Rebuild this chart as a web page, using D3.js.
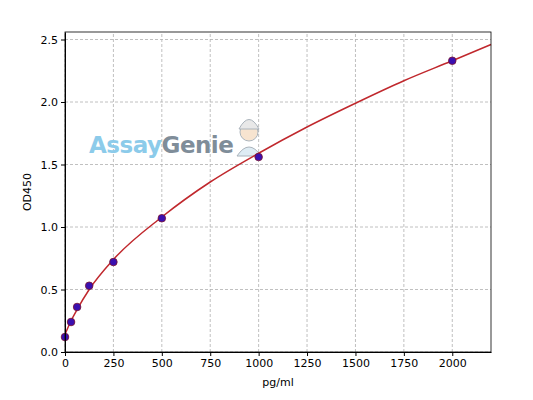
<!DOCTYPE html>
<html><head><meta charset="utf-8">
<script src="https://cdn.jsdelivr.net/npm/d3@7"></script>
<style>body{margin:0;background:#fff}text{font-family:"DejaVu Sans",sans-serif}</style>
</head><body><div id="chart"></div>
<script>
// standard points
var conc = [0, 31.25, 62.5, 125, 250, 500, 1000, 2000];
var od = [0.12, 0.24, 0.36, 0.53, 0.72, 1.07, 1.56, 2.33];
// fitted curve
var curveX = [0, 31.25, 62.5, 125, 250, 500, 750, 1000, 1250, 1500, 1750, 2000, 2200];
var curveY = [0.14, 0.25, 0.34, 0.50, 0.74, 1.08, 1.36, 1.59, 1.80, 1.99, 2.17, 2.33, 2.46];
var xTicks = [0, 250, 500, 750, 1000, 1250, 1500, 1750, 2000];
var yTicks = [0.0, 0.5, 1.0, 1.5, 2.0, 2.5];

var w = 533, h = 400;
var margin = {top: 32, right: 42, bottom: 48, left: 65};
var svg = d3.select("#chart").append("svg").attr("width", w).attr("height", h);

var x = d3.scaleLinear().domain([0, 2200]).range([margin.left, w - margin.right]);
var y = d3.scaleLinear().domain([0, 2.56]).range([h - margin.bottom, margin.top]);

//grid
svg.append("g").selectAll("line").data(xTicks).enter().append("line")
  .attr("x1", d => x(d)).attr("x2", d => x(d))
  .attr("y1", y(0)).attr("y2", y(2.56))
  .attr("stroke", "#b0b0b0").attr("stroke-dasharray", "3,2").attr("stroke-width", 0.8);
svg.append("g").selectAll("line").data(yTicks).enter().append("line")
  .attr("x1", x(0)).attr("x2", x(2200))
  .attr("y1", d => y(d)).attr("y2", d => y(d))
  .attr("stroke", "#b0b0b0").attr("stroke-dasharray", "3,2").attr("stroke-width", 0.8);

//watermark
var wm = svg.append("text").attr("x", 89).attr("y", 153).attr("font-size", 23).attr("font-weight", "bold")
  .attr("letter-spacing", -0.5);
wm.append("tspan").text("Assay").attr("fill", "#8ccbea");
wm.append("tspan").text("Genie").attr("fill", "#7f8d99");
var icon = svg.append("g").attr("transform", "translate(249,132)").attr("opacity", 0.65);
icon.append("circle").attr("r", 9).attr("fill", "#f3d7b8").attr("stroke", "#7f8d99");
icon.append("path").attr("d", "M-10,-3 Q0,-22 10,-3 Z").attr("fill", "#ddd").attr("stroke", "#7f8d99");
icon.append("path").attr("d", "M-12,24 Q0,6 12,24 Z").attr("fill", "#cde3ef").attr("stroke", "#7f8d99");

//curve
var line = d3.line().x((d, i) => x(curveX[i])).y(d => y(d)).curve(d3.curveMonotoneX);
svg.append("path").datum(curveY).attr("d", line)
  .attr("fill", "none").attr("stroke", "#c0282d").attr("stroke-width", 1.5);

svg.append("g").selectAll("circle").data(conc).enter().append("circle")
  .attr("cx", d => x(d)).attr("cy", (d, i) => y(od[i])).attr("r", 3.8)
  .attr("fill", "#3a10b0").attr("stroke", "#7a1030").attr("stroke-width", 0.8);

//axes
svg.append("g").attr("transform", "translate(0," + y(0) + ")")
  .call(d3.axisBottom(x).tickValues(xTicks).tickFormat(d3.format("d")).tickSize(4).tickSizeOuter(0))
  .call(g => g.selectAll("text").attr("font-size", 11).attr("fill", "#000"));
svg.append("g").attr("transform", "translate(" + x(0) + ",0)")
  .call(d3.axisLeft(y).tickValues(yTicks).tickFormat(d3.format(".1f")).tickSize(4).tickSizeOuter(0))
  .call(g => g.selectAll("text").attr("font-size", 11).attr("fill", "#000"));
svg.append("rect").attr("x", x(0)).attr("y", y(2.56)).attr("width", x(2200) - x(0))
  .attr("height", y(0) - y(2.56)).attr("fill", "none").attr("stroke", "#000").attr("stroke-width", 0.8);

svg.append("text").attr("x", (x(0) + x(2200)) / 2).attr("y", 386).attr("text-anchor", "middle")
  .attr("font-size", 11).text("pg/ml");
svg.append("text").attr("transform", "rotate(-90)").attr("x", -(y(0) + y(2.56)) / 2).attr("y", 31)
  .attr("text-anchor", "middle").attr("font-size", 11).text("OD450");
</script></body></html>
